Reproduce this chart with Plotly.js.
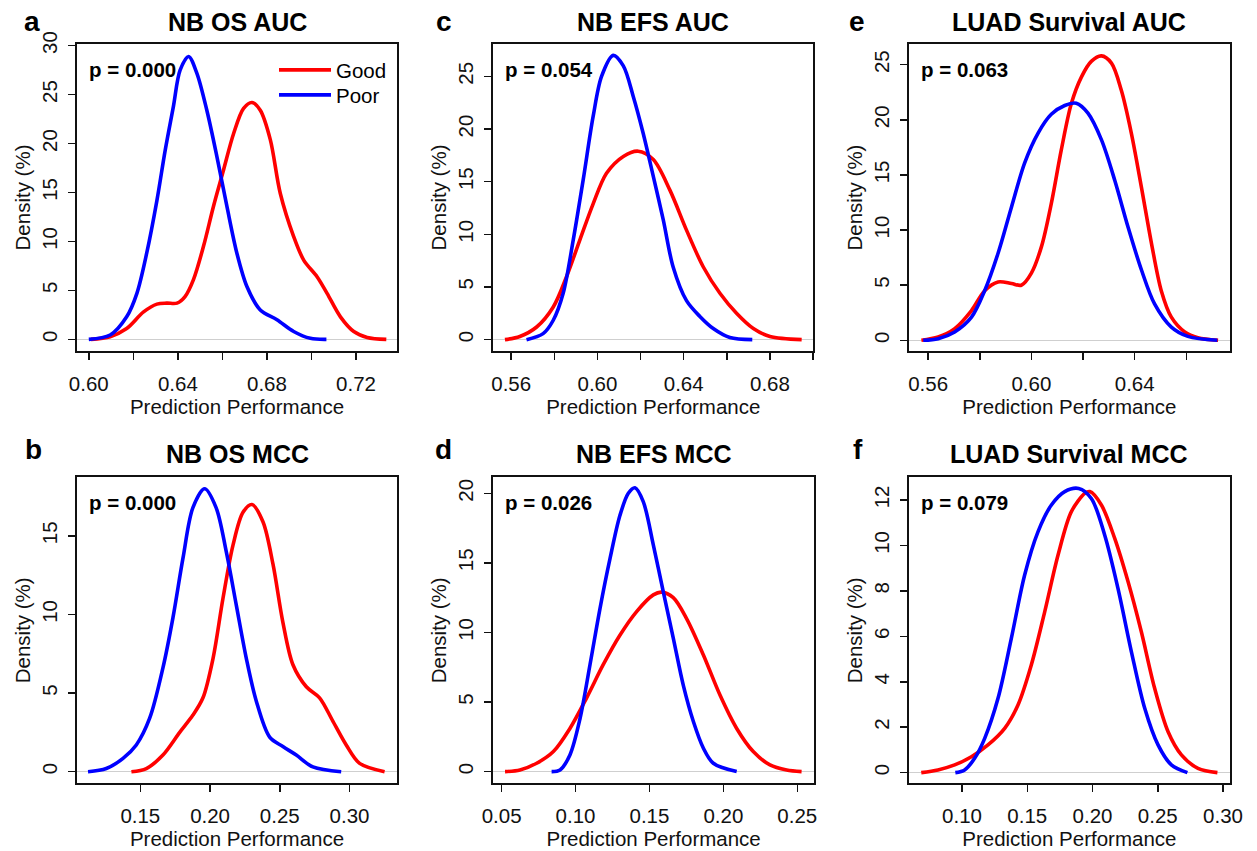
<!DOCTYPE html>
<html>
<head>
<meta charset="utf-8">
<script src="https://cdn.plot.ly/plotly-3.0.1.min.js"></script>
<style>html,body{margin:0;padding:0;background:#fff;}#chart{width:1257px;height:851px;}</style>
</head>
<body>
<div id="chart"></div>
<script>
// ---------------- DATA ----------------
// Panel a: NB OS AUC
const aGoodX = [0.601,0.6096,0.617,0.6246,0.6306,0.635,0.6396,0.6433,0.647,0.6515,0.656,0.6605,0.665,0.6695,0.6733,0.677,0.6815,0.686,0.692,0.6965,0.7025,0.707,0.713,0.719,0.725,0.7336];
const aGoodY = [0,0.27,1.1,2.8,3.6,3.7,3.7,4.4,6.1,9.5,13.6,17.3,21.0,23.6,24.2,23.4,20.4,14.9,10.5,8.1,6.4,4.7,2.3,0.8,0.2,0];
const aPoorX = [0.600,0.6096,0.617,0.6216,0.626,0.6306,0.6343,0.638,0.641,0.6448,0.6485,0.653,0.6575,0.662,0.6665,0.671,0.677,0.6845,0.692,0.6995,0.7067];
const aPoorY = [0,0.44,2.3,4.7,8.8,14.2,19.3,23.8,27.5,28.9,27.2,23.4,18.7,13.6,8.8,5.4,3.0,2.0,0.8,0.1,0];
// Panel b: NB OS MCC
const bGoodX = [0.1436,0.1543,0.1662,0.1782,0.1877,0.1949,0.2021,0.2092,0.2164,0.2236,0.23,0.2379,0.2451,0.2522,0.2594,0.269,0.2785,0.2881,0.2976,0.3072,0.3251];
const bGoodY = [0,0.2,1.06,2.5,3.6,4.7,7.2,11.0,14.4,16.5,17.0,15.9,13.2,9.5,6.8,5.4,4.7,3.2,1.7,0.53,0];
const bPoorX = [0.1125,0.1256,0.1376,0.1471,0.1567,0.1662,0.1734,0.1806,0.1877,0.1961,0.2043,0.2116,0.2188,0.226,0.2331,0.2427,0.2522,0.2618,0.2737,0.294];
const bPoorY = [0,0.2,0.85,1.7,3.4,6.6,9.8,13.6,16.8,18.0,16.8,14.0,10.6,7.2,4.5,2.2,1.6,1.06,0.3,0];
// Panel c: NB EFS AUC
const cGoodX = [0.5571,0.564,0.5718,0.5795,0.5857,0.5919,0.598,0.6042,0.612,0.6189,0.6259,0.6336,0.6413,0.6491,0.6568,0.6645,0.6723,0.68,0.6947];
const cGoodY = [0,0.3,1.2,3.1,6.0,9.5,12.9,15.8,17.4,17.9,17.1,14.2,10.4,6.9,4.4,2.5,1.05,0.3,0];
const cPoorX = [0.5671,0.5748,0.5795,0.5841,0.5888,0.5934,0.598,0.6019,0.6073,0.612,0.6166,0.6212,0.6259,0.6305,0.6351,0.6413,0.6475,0.6537,0.6614,0.6718];
const cPoorY = [0,0.57,1.84,4.4,9.5,15.2,21.2,25.0,27.0,26.0,23.1,19.6,15.5,11.4,6.9,3.7,2.2,1.05,0.2,0];
// Panel d: NB EFS MCC
const dGoodX = [0.0523,0.0624,0.0737,0.085,0.0962,0.1075,0.1188,0.13,0.1413,0.1526,0.1582,0.1661,0.1751,0.1864,0.1977,0.209,0.2202,0.2315,0.2428,0.2529];
const dGoodY = [0,0.12,0.6,1.44,3.1,5.3,7.7,9.8,11.5,12.7,12.9,12.5,11.0,8.4,5.5,3.1,1.44,0.48,0.12,0];
const dPoorX = [0.0838,0.0895,0.0962,0.103,0.1098,0.1165,0.1233,0.13,0.1357,0.1402,0.1458,0.1526,0.1594,0.1661,0.1729,0.1797,0.1864,0.1932,0.209];
const dPoorY = [0,0.12,1.2,3.8,7.7,11.7,15.3,18.4,20.0,20.4,19.4,16.3,12.9,9.6,6.2,3.6,1.7,0.6,0];
// Panel e: LUAD Survival AUC
const eGoodX = [0.5574,0.5639,0.5703,0.5768,0.5819,0.5871,0.5923,0.5961,0.6,0.6039,0.6077,0.6116,0.6155,0.6194,0.6232,0.6271,0.631,0.6348,0.6387,0.6426,0.6465,0.6503,0.6542,0.6594,0.6645,0.6723];
const eGoodY = [0,0.3,1.06,2.7,4.5,5.3,5.15,5.0,6.1,8.5,12.4,17.3,21.5,23.9,25.3,25.8,25.15,22.7,18.8,13.9,8.8,4.5,2.1,0.76,0.24,0];
const ePoorX = [0.5581,0.5639,0.5703,0.5768,0.5819,0.5871,0.5923,0.5974,0.6026,0.6077,0.6129,0.6174,0.6219,0.6271,0.6323,0.6374,0.6426,0.6477,0.6542,0.6606,0.672];
const ePoorY = [0,0.15,0.76,2.1,4.5,7.9,12.1,16.1,18.8,20.5,21.3,21.5,20.6,18.2,14.5,10.3,6.4,3.3,1.2,0.36,0];
// Panel f: LUAD Survival MCC
const fGoodX = [0.0688,0.0816,0.0944,0.1072,0.1199,0.1327,0.1429,0.1531,0.1634,0.1736,0.1838,0.1941,0.1979,0.2068,0.217,0.2272,0.2374,0.2476,0.2579,0.2681,0.2808,0.2957];
const fGoodY = [0,0.12,0.34,0.7,1.22,1.95,2.98,4.74,7.09,9.58,11.49,12.29,12.37,11.78,10.31,8.41,6.2,3.71,1.8,0.78,0.19,0];
const fPoorX = [0.0949,0.102,0.1097,0.1174,0.1276,0.1378,0.148,0.1582,0.1685,0.1787,0.1894,0.1991,0.2093,0.2195,0.2298,0.24,0.2502,0.2604,0.2727];
const fPoorY = [0,0.12,0.63,1.51,3.27,5.91,8.7,10.6,11.78,12.37,12.51,12.07,10.46,8.11,5.32,2.83,1.22,0.34,0];

const panelTitles = ['NB OS AUC','NB OS MCC','NB EFS AUC','NB EFS MCC','LUAD Survival AUC','LUAD Survival MCC'];
const panelLetters = ['a','b','c','d','e','f'];
const pValues = ['0.000','0.000','0.054','0.026','0.063','0.079'];
const seriesNames = ['Good','Poor'];
const xTickVals = [
  [0.60,0.62,0.64,0.66,0.68,0.70,0.72],
  [0.15,0.20,0.25,0.30],
  [0.56,0.58,0.60,0.62,0.64,0.66,0.68,0.70],
  [0.05,0.10,0.15,0.20,0.25],
  [0.56,0.58,0.60,0.62,0.64,0.66],
  [0.10,0.15,0.20,0.25,0.30]
];
const xTickText = [
  ['0.60','','0.64','','0.68','','0.72'],
  ['0.15','0.20','0.25','0.30'],
  ['0.56','','0.60','','0.64','','0.68',''],
  ['0.05','0.10','0.15','0.20','0.25'],
  ['0.56','','0.60','','0.64',''],
  ['0.10','0.15','0.20','0.25','0.30']
];
const yTickStep = [5,5,5,5,5,2];

// ---------------- LAYOUT ----------------
const W = 1257, H = 851;
const FONT = 'Arial, "Liberation Sans", sans-serif';
const RED = '#ff0000', BLUE = '#0000ff';
const TXT = 20.5;

// plot boxes in pixels [left, right, top, bottom]
const boxes = [
  [77, 397, 44, 351],
  [77, 397, 477.3, 783.3],
  [493.3, 813.3, 44, 351],
  [493.3, 814, 477.3, 783.3],
  [909, 1229.7, 44, 351],
  [909, 1229.7, 477.3, 783.3]
];
const xRanges = [[0.5947,0.7384],[0.1046,0.334],[0.5517,0.7001],[0.04436,0.2613],[0.5526,0.6768],[0.0594,0.3051]];
const yRanges = [[-1.19,30.17],[-0.74,18.73],[-1.08,28.08],[-0.84,21.15],[-0.97,26.88],[-0.47,13.0]];

const series = [
  [[aGoodX,aGoodY],[aPoorX,aPoorY]],
  [[bGoodX,bGoodY],[bPoorX,bPoorY]],
  [[cGoodX,cGoodY],[cPoorX,cPoorY]],
  [[dGoodX,dGoodY],[dPoorX,dPoorY]],
  [[eGoodX,eGoodY],[ePoorX,ePoorY]],
  [[fGoodX,fGoodY],[fPoorX,fPoorY]]
];

const px = x => x / W;
const py = y => 1 - y / H;

const legendBase = {
  xanchor: 'left', yanchor: 'middle',
  bgcolor: 'rgba(0,0,0,0)', borderwidth: 0,
  font: {family: FONT, size: TXT, color: '#000'},
  itemwidth: 52, tracegroupgap: 0
};

const traces = [];
const layout = {
  width: W, height: H,
  margin: {l:0, r:0, t:0, b:0},
  paper_bgcolor: '#ffffff',
  plot_bgcolor: '#ffffff',
  font: {family: FONT, size: TXT, color: '#000'},
  showlegend: true,
  legend: Object.assign({x: px(274), y: py(70)}, legendBase),
  legend2: Object.assign({x: px(274), y: py(95)}, legendBase),
  annotations: []
};

for (let i = 0; i < 6; i++) {
  const k = i === 0 ? '' : String(i + 1);
  const b = boxes[i];
  const top = i % 2 === 0;
  const colors = [RED, BLUE];
  for (let s = 0; s < 2; s++) {
    traces.push({
      type: 'scatter', mode: 'lines',
      x: series[i][s][0], y: series[i][s][1],
      xaxis: 'x' + k, yaxis: 'y' + k,
      name: seriesNames[s],
      showlegend: i === 0,
      legend: s === 0 ? 'legend' : 'legend2',
      line: {color: colors[s], width: 3.6, shape: 'spline', smoothing: 0.9},
      hoverinfo: 'skip'
    });
  }
  const ymax = yRanges[i][1];
  const yt = [];
  for (let v = 0; v <= ymax; v += yTickStep[i]) yt.push(v);
  layout['xaxis' + k] = {
    domain: [px(b[0]), px(b[1])],
    anchor: 'y' + k,
    range: xRanges[i],
    tickmode: 'array', tickvals: xTickVals[i], ticktext: xTickText[i],
    ticks: 'outside', ticklen: 7, tickwidth: 1.5, tickcolor: '#111',
    showline: true, mirror: true, linecolor: '#111', linewidth: 2,
    showgrid: false, zeroline: false,
    tickfont: {family: FONT, size: TXT, color: '#111'},
    ticklabelstandoff: 6,
    title: {text: 'Prediction Performance', font: {family: FONT, size: TXT, color: '#111'}, standoff: 4},
    automargin: false, fixedrange: true
  };
  layout['yaxis' + k] = {
    domain: [py(b[3]), py(b[2])],
    anchor: 'x' + k,
    range: yRanges[i],
    tickmode: 'array', tickvals: yt, ticktext: yt.map(String),
    tickangle: -90,
    ticks: 'outside', ticklen: 7, tickwidth: 1.5, tickcolor: '#111',
    showline: true, mirror: true, linecolor: '#111', linewidth: 2,
    showgrid: false,
    zeroline: true, zerolinecolor: '#cfcfcf', zerolinewidth: 1,
    tickfont: {family: FONT, size: TXT, color: '#111'},
    ticklabelstandoff: 3,
    title: {text: 'Density (%)', font: {family: FONT, size: TXT, color: '#111'}, standoff: 2},
    automargin: false, fixedrange: true
  };
  // panel title
  layout.annotations.push({
    xref: 'paper', yref: 'paper', x: px((b[0] + b[1]) / 2), y: py(top ? 22 : 454),
    xanchor: 'center', yanchor: 'middle', showarrow: false,
    text: '<b>' + panelTitles[i] + '</b>',
    font: {family: FONT, size: 25, color: '#000'}
  });
  // panel letter
  const letterX = [32, 33, 444, 443, 857, 858][i];
  layout.annotations.push({
    xref: 'paper', yref: 'paper', x: px(letterX), y: py(top ? 21.5 : 449),
    xanchor: 'center', yanchor: 'middle', showarrow: false,
    text: '<b>' + panelLetters[i] + '</b>',
    font: {family: FONT, size: 28, color: '#000'}
  });
  // p value
  layout.annotations.push({
    xref: 'paper', yref: 'paper', x: px(b[0] + 10), y: py(b[2] + 25.5),
    xanchor: 'left', yanchor: 'middle', showarrow: false,
    text: '<b>p = ' + pValues[i] + '</b>',
    font: {family: FONT, size: TXT, color: '#000'}
  });
}

Plotly.newPlot('chart', traces, layout, {staticPlot: true, displayModeBar: false});
</script>
</body>
</html>
